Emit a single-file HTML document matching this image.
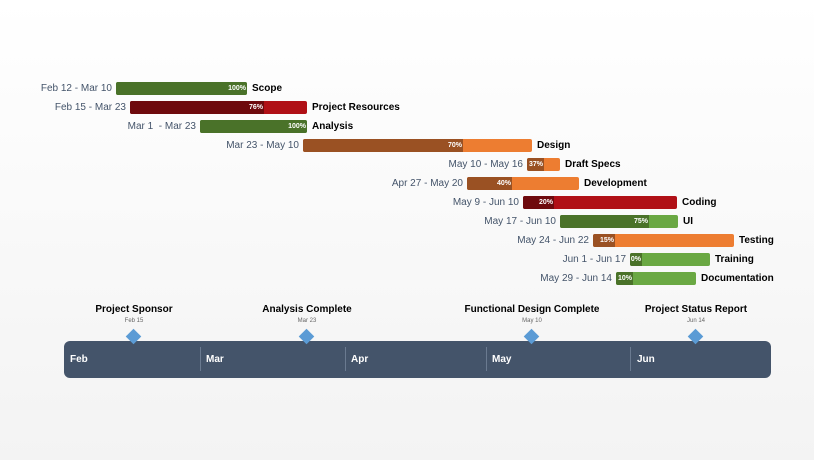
<!DOCTYPE html><html><head><style>
body{margin:0;width:814px;height:460px;background:linear-gradient(#fff,#f3f3f3);font-family:"Liberation Sans",sans-serif;position:relative;overflow:hidden}
.b{position:absolute;height:13px;border-radius:2px;overflow:hidden}
.b i{position:absolute;left:0;top:0;bottom:0;display:block}
.b span{position:absolute;top:0;font-size:7px;font-weight:bold;color:#fff;line-height:13px}
.d{position:absolute;font-size:10px;color:#44546a;text-align:right;width:200px;line-height:13px}
.n{position:absolute;font-size:10px;font-weight:bold;color:#000;line-height:13px}
.m{position:absolute;width:11px;height:11px;background:#5b9bd5;transform:rotate(45deg);z-index:5}
.mt{position:absolute;font-size:10px;font-weight:bold;text-align:center;width:200px}
.md{position:absolute;font-size:6px;color:#666;text-align:center;width:200px}
.mo{position:absolute;top:354px;font-size:10px;font-weight:bold;color:#fff}
.sep{position:absolute;top:347px;height:24px;width:1px;background:#6a7a90}
</style></head><body>
<div style="position:absolute;left:64px;top:341px;width:707px;height:37px;background:#44546a;border-radius:6px"></div>
<div class="sep" style="left:200px"></div><div class="sep" style="left:345px"></div><div class="sep" style="left:486px"></div><div class="sep" style="left:630px"></div>
<div class="mo" style="left:70px">Feb</div><div class="mo" style="left:206px">Mar</div><div class="mo" style="left:351px">Apr</div><div class="mo" style="left:492px">May</div><div class="mo" style="left:637px">Jun</div>
<div id="rows"></div>
<script>
var G=['#4a7229','#6aa843'],R=['#6e0a0d','#b01016'],O=['#9a5123','#ed7d31'];
var rows=[["Feb 12 - Mar 10","Scope",116,247,247,"100%",G],
["Feb 15 - Mar 23","Project Resources",130,307,264,"76%",R],
["Mar 1  - Mar 23","Analysis",200,307,307,"100%",G],
["Mar 23 - May 10","Design",303,532,463,"70%",O],
["May 10 - May 16","Draft Specs",527,560,544,"37%",O],
["Apr 27 - May 20","Development",467,579,512,"40%",O],
["May 9 - Jun 10","Coding",523,677,554,"20%",R],
["May 17 - Jun 10","UI",560,678,649,"75%",G],
["May 24 - Jun 22","Testing",593,734,615,"15%",O],
["Jun 1 - Jun 17","Training",630,710,642,"0%",G],
["May 29 - Jun 14","Documentation",616,696,633,"10%",G]];
var h='';rows.forEach(function(r,k){var y=82+k*19;var w=r[3]-r[2],p=r[4]-r[2];
h+='<div class="d" style="left:'+(r[2]-204)+'px;top:'+y+'px">'+r[0].replace('  ','&nbsp; ')+'</div>';
h+='<div class="b" style="left:'+r[2]+'px;top:'+y+'px;width:'+w+'px;background:'+r[6][1]+'"><i style="width:'+p+'px;background:'+r[6][0]+'"></i><span style="right:'+(w-p+1)+'px">'+r[5]+'</span></div>';
h+='<div class="n" style="left:'+(r[3]+5)+'px;top:'+y+'px">'+r[1]+'</div>';});
[[134,"Project Sponsor","Feb 15"],[307,"Analysis Complete","Mar 23"],[532,"Functional Design Complete","May 10"],[696,"Project Status Report","Jun 14"]].forEach(function(m){
h+='<div class="mt" style="left:'+(m[0]-100)+'px;top:304px">'+m[1]+'</div><div class="md" style="left:'+(m[0]-100)+'px;top:318px">'+m[2]+'</div><div class="m" style="left:'+(m[0]-6)+'px;top:331px"></div>';});
document.getElementById('rows').innerHTML=h;
</script></body></html>
